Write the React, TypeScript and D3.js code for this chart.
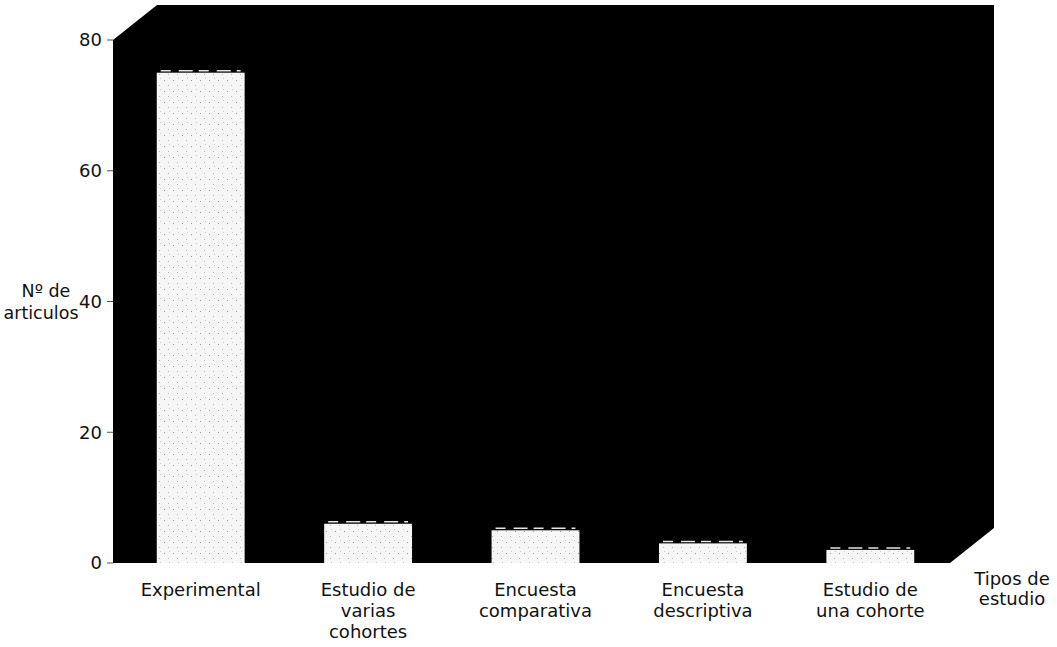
import React from "react";
import * as d3 from "d3";

const categories: string[][] = [
  ["Experimental"],
  ["Estudio de", "varias", "cohortes"],
  ["Encuesta", "comparativa"],
  ["Encuesta", "descriptiva"],
  ["Estudio de", "una cohorte"],
];
const values: number[] = [75, 6, 5, 3, 2];
const yTicks: number[] = [0, 20, 40, 60, 80];
const yTitle: string[] = ["Nº de", "articulos"];
const xTitle: string[] = ["Tipos de", "estudio"];

const W = 1057;
const H = 647;
const FONT = "'DejaVu Sans', 'Liberation Sans', Arial, sans-serif";

export default function App() {
  const x0 = 113;
  const x1 = 950;
  const depthX = 44;
  const depthY = -35;
  const y = d3.scaleLinear().domain([0, 80]).range([563, 40]);
  const x = d3
    .scaleBand<number>()
    .domain(categories.map((_, i) => i))
    .range([x0 + 4, x1 + 4])
    .paddingInner(0.475)
    .paddingOuter(0.2375);

  const wall = [
    [x0, y(0)],
    [x0, y(80)],
    [x0 + depthX, y(80) + depthY],
    [x1 + depthX, y(80) + depthY],
    [x1 + depthX, y(0) + depthY],
    [x1, y(0)],
  ];
  const line = d3.line();

  return (
    <svg
      width={W}
      height={H}
      style={{ position: "absolute", left: 0, top: 0, background: "#fff" }}
      fontFamily={FONT}
    >
      <defs>
        <pattern id="speck" width="9" height="11" patternUnits="userSpaceOnUse">
          <rect width="9" height="11" fill="#f6f6f6" />
          <rect x="2" y="3" width="1" height="1" fill="#9a9a9a" />
          <rect x="6" y="8" width="1" height="1" fill="#b5b5b5" />
          <rect x="7" y="1" width="1" height="1" fill="#c8c8c8" />
        </pattern>
      </defs>
      <path d={line(wall as [number, number][]) + "Z"} fill="#000" />

      {yTicks.map((t) => (
        <g key={t}>
          <line x1={x0 - 6} x2={x0} y1={y(t)} y2={y(t)} stroke="#555" strokeWidth={1} />
          <text x={x0 - 11} y={y(t)} dy="0.36em" textAnchor="end" fontSize={18} fill="#111">
            {t}
          </text>
        </g>
      ))}

      {values.map((v, i) => {
        const bx = x(i) as number;
        const bw = x.bandwidth();
        return (
          <g key={i}>
            <rect x={bx} y={y(v)} width={bw} height={y(0) - y(v)} fill="url(#speck)" />
            <line
              x1={bx + 4}
              x2={bx + bw - 4}
              y1={y(v) - 2}
              y2={y(v) - 2}
              stroke="#e4e4e4"
              strokeWidth={1.5}
              strokeDasharray="10 8 14 6"
            />
          </g>
        );
      })}

      {categories.map((lines, i) => {
        const cx = (x(i) as number) + x.bandwidth() / 2;
        return (
          <text key={i} x={cx} y={596} textAnchor="middle" fontSize={18} fill="#111">
            {lines.map((l, j) => (
              <tspan key={j} x={cx} dy={j === 0 ? 0 : 21}>
                {l}
              </tspan>
            ))}
          </text>
        );
      })}

      <text x={42} y={297} textAnchor="middle" fontSize={17.5} fill="#111">
        {yTitle.map((l, j) => (
          <tspan key={j} x={j === 0 ? 46 : 41} dy={j === 0 ? 0 : 22}>
            {l}
          </tspan>
        ))}
      </text>

      <text x={1012} y={585} textAnchor="middle" fontSize={18} fill="#111">
        {xTitle.map((l, j) => (
          <tspan key={j} x={1012} dy={j === 0 ? 0 : 20}>
            {l}
          </tspan>
        ))}
      </text>
    </svg>
  );
}
